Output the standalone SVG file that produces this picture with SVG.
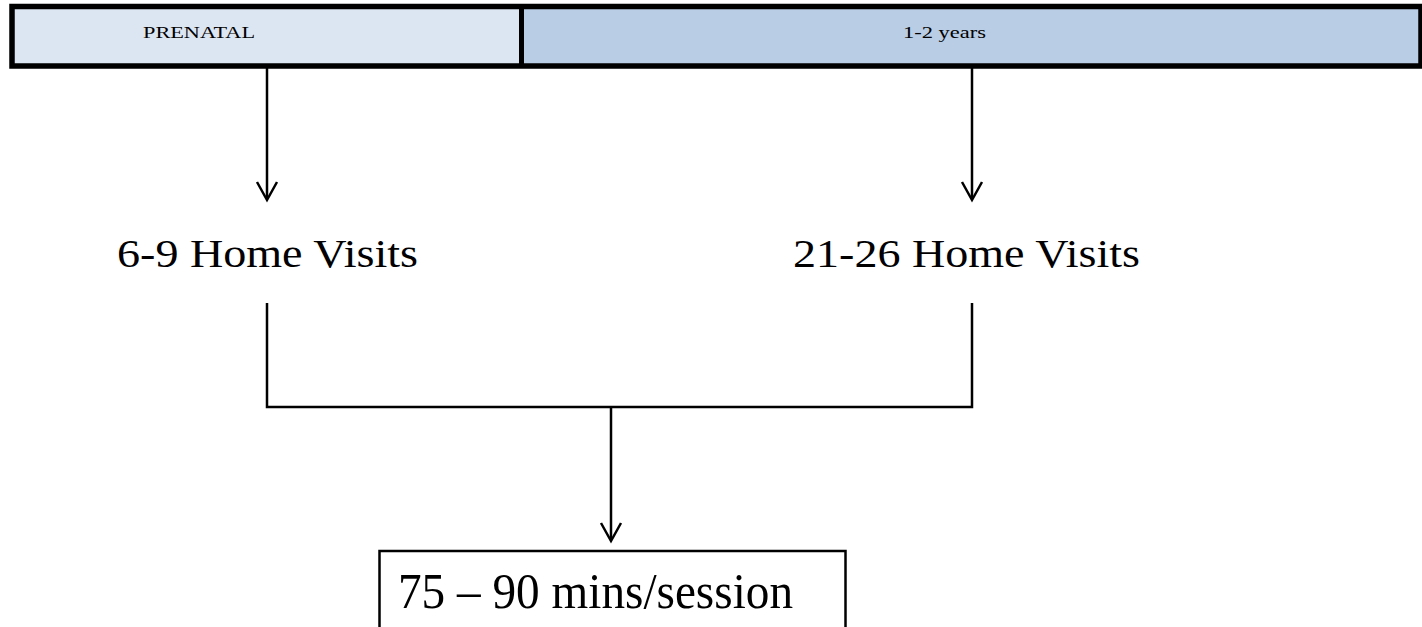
<svg xmlns="http://www.w3.org/2000/svg" width="1422" height="627" viewBox="0 0 1422 627">
<style>
.t{font-family:"Liberation Serif","Times New Roman",serif;fill:#000}
.ln{stroke:#000;stroke-width:2.5;fill:none}
.hd{stroke:#000;stroke-width:2.5;fill:none;stroke-linejoin:miter}
</style>
<rect width="1422" height="627" fill="#fff"/>
<g id="timeline">
<g id="prenatal">
<rect x="12" y="6.5" width="509.5" height="59.5" fill="#dce6f2"/>
<text class="t" x="143" y="38" font-size="16" textLength="112" lengthAdjust="spacingAndGlyphs">PRENATAL</text>
</g>
<g id="years">
<rect x="521.5" y="6.5" width="899.5" height="59.5" fill="#b9cde5"/>
<text class="t" x="903" y="38" font-size="17" textLength="83" lengthAdjust="spacingAndGlyphs">1-2 years</text>
</g>
<rect x="12" y="6.5" width="1409" height="59.5" fill="none" stroke="#000" stroke-width="5.5"/>
<line x1="521.5" y1="6.5" x2="521.5" y2="66" stroke="#000" stroke-width="5"/>
</g>
<g id="visits-prenatal">
<text class="t" x="117" y="267" font-size="40" textLength="301" lengthAdjust="spacingAndGlyphs">6-9 Home Visits</text>
</g>
<g id="visits-years">
<text class="t" x="793" y="267" font-size="40" textLength="347" lengthAdjust="spacingAndGlyphs">21-26 Home Visits</text>
</g>
<g id="session">
<rect x="379.5" y="551" width="466" height="80" fill="none" stroke="#000" stroke-width="2.5"/>
<text class="t" x="398" y="608" font-size="50" textLength="395" lengthAdjust="spacingAndGlyphs">75 – 90 mins/session</text>
</g>
<g id="connectors">
<line class="ln" x1="267" y1="68" x2="267" y2="199"/>
<polyline class="hd" points="257,182 267,200 277,182"/>
<line class="ln" x1="972" y1="68" x2="972" y2="199"/>
<polyline class="hd" points="962,182 972,200 982,182"/>
<polyline class="ln" points="267,303 267,407 972,407 972,303"/>
<line class="ln" x1="611" y1="407" x2="611" y2="540"/>
<polyline class="hd" points="601,523 611,541 621,523"/>
</g>
</svg>
